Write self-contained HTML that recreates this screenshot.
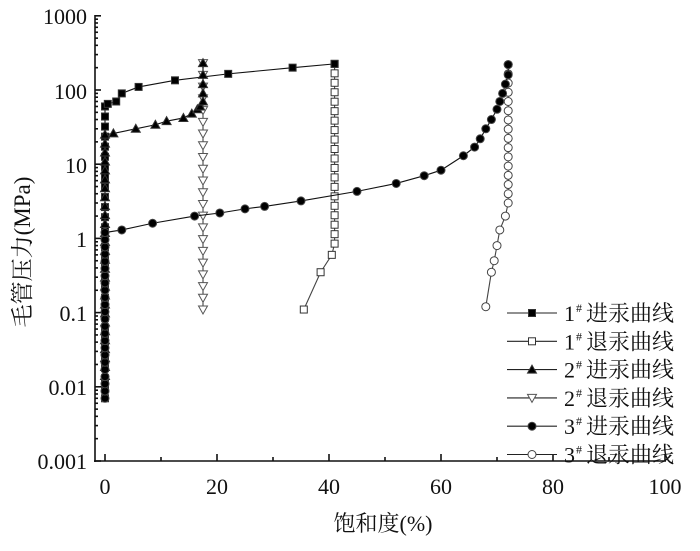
<!DOCTYPE html>
<html><head><meta charset="utf-8"><style>
html,body{margin:0;padding:0;background:#fff;}
svg text{font-family:"Liberation Serif","Noto Serif CJK SC",serif;fill:#111;}
</style></head><body>
<svg id="c" width="700" height="546" viewBox="0 0 700 546" xmlns="http://www.w3.org/2000/svg">
<g id="axes" stroke="#111" stroke-width="1.6" fill="none">
<line x1="95" y1="15" x2="95" y2="462"/>
<line x1="94" y1="461" x2="666" y2="461"/>
</g>
<g id="tl" font-size="22" text-anchor="end">
<text x="87" y="24">1000</text><text x="87" y="99">100</text><text x="87" y="173">10</text>
<text x="87" y="247">1</text><text x="87" y="321">0.1</text><text x="87" y="395">0.01</text><text x="87" y="469">0.001</text>
</g>
<g font-size="22" text-anchor="middle">
<text x="105" y="494">0</text><text x="217" y="494">20</text><text x="329" y="494">40</text>
<text x="441" y="494">60</text><text x="553" y="494">80</text><text x="665" y="494">100</text>
<text x="383" y="531" font-size="22">饱和度(%)</text>
<text transform="translate(30,252) rotate(-90)" font-size="23">毛管压力(MPa)</text>
</g>
<g id="ser"></g>
<g id="leg" font-size="22"></g>
</svg>
<script>
var NS="http://www.w3.org/2000/svg";
function X(s){return 105+5.6*s;}
function Y(p){return 461-74.2*(Math.log10(p)+3);}
function el(par,t,a){var e=document.createElementNS(NS,t);for(var k in a)e.setAttribute(k,a[k]);par.appendChild(e);return e;}
var ax=document.getElementById('axes');
for(var d=-3;d<3;d++){for(var m=1;m<10;m++){var y=Y(m*Math.pow(10,d));el(ax,'line',{x1:95,x2:m==1?101:98,y1:y,y2:y});}}
el(ax,'line',{x1:95,x2:101,y1:Y(1000),y2:Y(1000)});
for(var s=0;s<=100;s+=10){var x=X(s);el(ax,'line',{x1:x,x2:x,y1:461,y2:s%20==0?454:457});}
function vert(x,lo,hi,n){var a=[],l1=Math.log10(lo),l2=Math.log10(hi);for(var i=0;i<n;i++)a.push([x,Math.pow(10,l1+(l2-l1)*i/(n-1))]);return a;}
var s1=vert(0,0.007,60,30).concat([[0.5,65],[2,70],[3,90],[6,110],[12.5,135],[22,165],[33.5,200],[41,225]]);
var s1r=vert(41,225,0.85,20).concat([[40.5,0.6],[38.5,0.35],[35.5,0.11]]);
var s2=vert(0,0.014,25,28).concat([[1.5,26],[5.5,30],[9,34],[11,38],[14,42],[15.5,48],[16.5,55],[17,60],[17.5,70],[17.5,90],[17.5,120],[17.5,160],[17.5,230]]);
var s2r=vert(17.5,230,0.11,22);
var s3=vert(0,0.007,1.2,24).concat([[3,1.3],[8.5,1.6],[16,2],[20.5,2.2],[25,2.5],[28.5,2.7],[35,3.2],[45,4.3],[52,5.5],[57,7],[60,8.3],[64,13],[66,17],[67,22],[68,30],[69,40],[70,55],[70.5,70],[71,90],[71.5,120],[72,160],[72,220]]);
var s3r=vert(72,220,3,16).concat([[71.5,2],[70.5,1.3],[70,0.8],[69.5,0.5],[69,0.35],[68,0.12]]);
var g=document.getElementById('ser');
function mark(par,t,x,y){
 var f=(t=='sq'||t=='tri'||t=='ci')?'#000':'#fff';
 if(t=='sq'||t=='osq')el(par,'rect',{x:x-3.5,y:y-3.5,width:7,height:7,fill:f,stroke:'#333','stroke-width':1});
 else if(t=='tri')el(par,'polygon',{points:(x)+','+(y-4.5)+' '+(x-4.5)+','+(y+3.5)+' '+(x+4.5)+','+(y+3.5),fill:f,stroke:'#333'});
 else if(t=='otri')el(par,'polygon',{points:(x)+','+(y+4.5)+' '+(x-4.5)+','+(y-3.5)+' '+(x+4.5)+','+(y-3.5),fill:f,stroke:'#555'});
 else el(par,'circle',{cx:x,cy:y,r:4,fill:f,stroke:'#444'});
}
function series(d,t,col){
 el(g,'polyline',{points:d.map(function(p){return X(p[0])+','+Y(p[1]);}).join(' '),fill:'none',stroke:col,'stroke-width':1.1});
 d.forEach(function(p){mark(g,t,X(p[0]),Y(p[1]));});
}
series(s1r,'osq','#444');series(s2r,'otri','#444');series(s3r,'oci','#444');
series(s1,'sq','#111');series(s2,'tri','#111');series(s3,'ci','#111');
var lg=document.getElementById('leg');
var rows=[['sq','1','进汞曲线'],['osq','1','退汞曲线'],['tri','2','进汞曲线'],['otri','2','退汞曲线'],['ci','3','进汞曲线'],['oci','3','退汞曲线']];
rows.forEach(function(r,i){var y=313+28.3*i;
 el(lg,'line',{x1:507,x2:557,y1:y,y2:y,stroke:'#222','stroke-width':1.1});
 mark(lg,r[0],532,y);
 var t=el(lg,'text',{x:564,y:y+8});t.textContent=r[1];
 var s=el(lg,'text',{x:576,y:y-1,'font-size':12});s.textContent='#';
 var t2=el(lg,'text',{x:586,y:y+8});t2.textContent=r[2];
});
</script>
</body></html>
